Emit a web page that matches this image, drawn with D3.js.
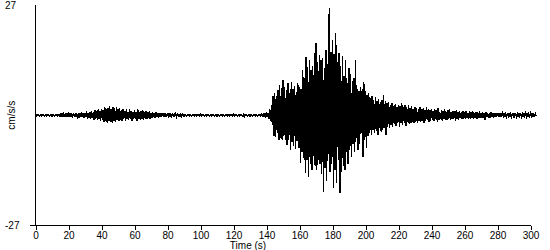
<!DOCTYPE html>
<html><head><meta charset="utf-8">
<script src="https://cdn.jsdelivr.net/npm/d3@7"></script>
<style>
html,body{margin:0;padding:0;background:#fff;}
svg{display:block;}
text{font-family:"Liberation Sans",Arial,sans-serif;fill:#000;}
</style></head>
<body>
<svg id="c" width="550" height="250"></svg>
<script>
// Time step of the envelope samples (seconds)
const sampleStep = 1;
// Positive extremes (cm/s/s) per second, t = 0..303
const peaks = [
0.15,0.15,0.15,0.15,0.15,0.15,0.15,0.15,0.15,0.15,
0.15,0.15,0.15,0.15,0.15,0.3,0.5,0.3,0.4,0.5,
0.3,0.5,0.4,0.6,0.3,0.5,0.4,0.5,0.7,0.4,
0.6,0.9,0.5,0.8,1.1,0.7,1.2,0.9,1.4,1.0,
1.6,1.2,2.0,1.4,1.8,2.2,1.5,2.1,1.7,1.9,
1.4,1.8,1.2,1.6,1.0,1.4,0.9,1.5,1.1,0.8,
1.2,0.9,1.4,0.8,1.1,1.3,0.7,1.0,0.8,1.1,
0.6,0.8,0.5,0.7,0.4,0.6,0.5,0.4,0.6,0.3,
0.5,0.4,0.3,0.5,0.3,0.4,0.3,0.2,0.3,0.2,
0.15,0.15,0.15,0.15,0.15,0.15,0.15,0.15,0.15,0.15,
0.15,0.15,0.15,0.15,0.15,0.15,0.15,0.15,0.15,0.15,
0.15,0.15,0.15,0.15,0.15,0.15,0.15,0.15,0.15,0.15,
0.15,0.15,0.15,0.15,0.15,0.15,0.15,0.15,0.15,0.15,
0.15,0.15,0.15,0.15,0.15,0.15,0.15,0.2,0.3,0.5,
0.7,0.6,1.5,2.5,4.6,5.4,4.8,6.1,7.4,6.6,
8.6,7.0,6.1,7.9,5.4,8.1,6.4,7.2,5.6,7.9,
6.9,6.4,11.0,9.0,14.2,11.8,13.5,11.0,12.0,15.2,
17.7,13.0,14.7,13.5,14.0,11.5,16.0,12.5,26.3,15.5,
18.4,15.0,20.1,13.0,15.2,12.0,14.5,9.5,13.5,8.0,
11.5,10.0,8.5,9.0,13.5,6.5,6.0,7.0,6.5,8.1,
6.0,5.0,5.4,4.2,4.8,3.8,4.5,3.5,4.0,3.2,
3.8,4.9,3.5,3.0,3.2,2.6,3.0,2.2,2.8,2.0,
2.5,2.2,3.0,1.9,2.4,2.0,2.6,1.8,2.2,1.6,
2.0,1.7,1.4,1.9,1.5,1.8,1.3,2.0,1.5,1.2,
1.6,1.0,1.4,1.2,1.7,0.9,1.3,1.1,1.5,0.9,
1.2,1.4,0.8,1.1,1.0,1.3,0.8,1.1,0.7,1.0,
0.8,1.1,0.6,0.9,0.7,1.0,0.6,0.8,0.7,0.9,
0.6,0.8,0.5,0.7,0.6,0.5,0.7,0.5,0.6,0.5,
0.5,0.4,0.5,0.4,0.5,0.4,0.5,0.4,0.4,0.5,
0.4,0.5,0.4,0.4,0.5,0.4,0.4,0.4,0.5,0.4,
0.4,0.4,0.3,0.3
];
// Negative extremes (cm/s/s), half a step after each peak
const troughs = [
-0.15,-0.15,-0.15,-0.15,-0.15,-0.15,-0.15,-0.15,-0.15,-0.15,
-0.15,-0.15,-0.15,-0.15,-0.15,-0.3,-0.4,-0.5,-0.3,-0.4,
-0.5,-0.3,-0.6,-0.4,-0.5,-0.3,-0.6,-0.4,-0.5,-0.6,
-0.5,-0.8,-0.6,-1.0,-0.7,-1.2,-0.8,-1.1,-0.9,-1.3,
-1.2,-1.6,-1.4,-2.0,-1.3,-1.7,-1.9,-1.4,-1.6,-1.2,
-1.5,-1.1,-1.4,-1.0,-1.3,-0.9,-1.2,-1.0,-1.4,-0.8,
-1.0,-1.3,-0.8,-1.1,-0.9,-1.2,-0.8,-1.0,-0.7,-0.9,
-0.7,-0.5,-0.6,-0.4,-0.6,-0.5,-0.4,-0.5,-0.3,-0.4,
-0.3,-0.5,-0.3,-0.4,-0.2,-0.3,-0.2,-0.3,-0.2,-0.2,
-0.15,-0.15,-0.15,-0.15,-0.15,-0.15,-0.15,-0.15,-0.15,-0.15,
-0.15,-0.15,-0.15,-0.15,-0.15,-0.15,-0.15,-0.15,-0.15,-0.15,
-0.15,-0.15,-0.15,-0.15,-0.15,-0.15,-0.15,-0.15,-0.15,-0.15,
-0.15,-0.15,-0.15,-0.15,-0.15,-0.15,-0.4,-0.15,-0.15,-0.15,
-0.15,-0.15,-0.15,-0.15,-0.15,-0.15,-0.15,-0.2,-0.3,-0.6,
-0.5,-0.8,-1.5,-2.5,-5.0,-5.4,-4.4,-6.1,-5.6,-6.1,
-5.2,-6.1,-7.4,-6.0,-8.6,-6.6,-7.6,-8.2,-6.4,-8.0,
-11.8,-9.0,-10.5,-14.2,-11.0,-15.2,-12.0,-13.5,-10.0,-12.5,
-13.5,-11.0,-12.0,-14.5,-18.9,-13.0,-16.0,-9.5,-14.0,-12.0,
-17.7,-13.5,-16.5,-11.0,-19.1,-14.0,-12.5,-13.5,-9.0,-12.0,
-8.5,-10.3,-7.0,-9.0,-5.5,-8.6,-7.0,-4.4,-10.3,-6.0,
-8.1,-5.0,-4.4,-4.9,-3.7,-4.4,-3.8,-4.9,-3.2,-4.0,
-3.5,-3.0,-4.9,-2.8,-3.2,-2.5,-2.9,-2.2,-2.6,-2.0,
-2.8,-1.8,-2.4,-2.0,-2.6,-1.7,-2.2,-1.9,-1.6,-2.0,
-1.6,-2.0,-1.4,-1.7,-1.3,-1.9,-1.5,-1.2,-1.7,-1.4,
-1.1,-1.5,-1.0,-1.6,-1.2,-1.0,-1.4,-0.9,-1.2,-1.1,
-0.9,-1.2,-1.0,-0.8,-1.3,-0.9,-1.1,-0.7,-1.0,-0.8,
-0.9,-0.6,-0.8,-1.0,-0.6,-0.8,-0.7,-0.9,-0.6,-0.7,
-0.7,-0.6,-1.2,-0.5,-0.7,-0.6,-0.5,-0.7,-0.4,-0.5,
-0.4,-0.3,-0.4,-0.3,-0.4,-0.3,-0.3,-0.4,-0.3,-0.3,
-0.3,-0.3,-0.4,-0.3,-0.3,-0.3,-0.3,-0.3,-0.3,-0.3,
-0.3,-0.3,-0.2,-0.2
];
const xTicks = [0,20,40,60,80,100,120,140,160,180,200,220,240,260,280,300];
const yLimits = [-27, 27];
const xLabel = "Time (s)";
const yLabel = "cm/s/s";

const svg = d3.select("#c");
const x = d3.scaleLinear().domain([0,300]).range([35.5,530.5]);
const y = d3.scaleLinear().domain(yLimits).range([225.5,5]);

// build the alternating signal from the envelope samples
const signal = [];
peaks.forEach((p,i)=>{
  signal.push([i*sampleStep, p]);
  signal.push([i*sampleStep + sampleStep/2, troughs[i]]);
});

const line = d3.line().x(d=>x(d[0])).y(d=>y(d[1]));
svg.append("path").datum(signal)
  .attr("d", line).attr("fill","none").attr("stroke","#000").attr("stroke-width",1.3)
  .attr("shape-rendering","crispEdges");

// x axis
const xAxis = d3.axisBottom(x).tickValues(xTicks).tickSize(4).tickSizeOuter(0).tickFormat(d3.format("d"));
const gx = svg.append("g").attr("transform",`translate(0,${y(-27)})`).call(xAxis);
gx.select(".domain").remove();
gx.selectAll("line").attr("stroke","#000").attr("shape-rendering","crispEdges");
gx.selectAll("text").attr("font-size","10px").attr("dy","0.6em").attr("font-family","Liberation Sans, Arial, sans-serif");
svg.append("line").attr("x1",30).attr("x2",x(300)).attr("y1",y(-27)).attr("y2",y(-27))
  .attr("stroke","#000").attr("shape-rendering","crispEdges");

// y axis
svg.append("line").attr("x1",x(0)).attr("x2",x(0)).attr("y1",y(27)).attr("y2",y(-27))
  .attr("stroke","#000").attr("shape-rendering","crispEdges");
svg.selectAll(".ylab").data(yLimits).enter().append("text")
  .attr("x",5).attr("y",d=>y(d)).attr("dy","0.35em").attr("text-anchor","start")
  .attr("font-size","10px").text(d=>d);

svg.append("text").attr("x",248).attr("y",249).attr("text-anchor","middle")
  .attr("font-size","10px").text(xLabel);
svg.append("text").attr("transform",`translate(15,${y(0)}) rotate(-90)`)
  .attr("text-anchor","middle").attr("font-size","10px").text(yLabel);
</script>
</body></html>
